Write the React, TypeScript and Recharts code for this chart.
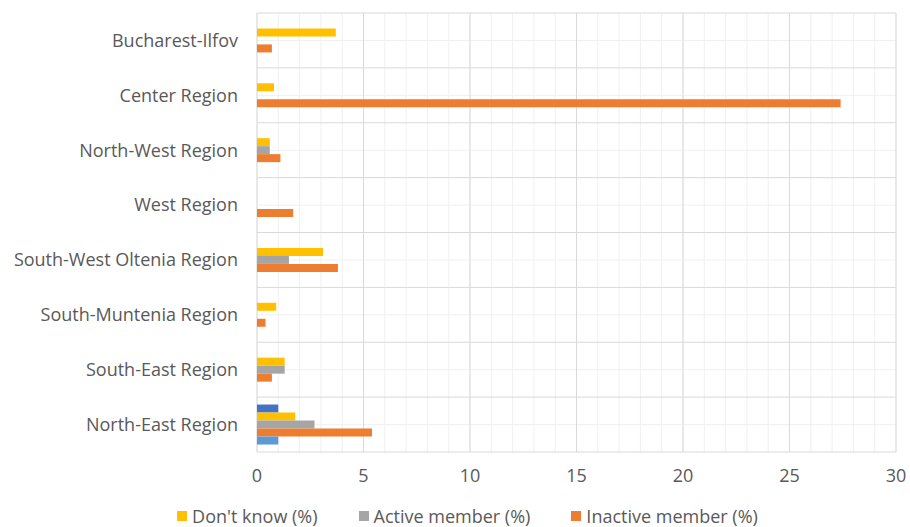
import { BarChart, Bar, XAxis, YAxis, CartesianGrid, Legend } from 'recharts';

const regions = [
  'Bucharest-Ilfov',
  'Center Region',
  'North-West Region',
  'West Region',
  'South-West Oltenia Region',
  'South-Muntenia Region',
  'South-East Region',
  'North-East Region',
];
const extraTop = [null, null, null, null, null, null, null, 1.0];
const dontKnow = [3.7, 0.8, 0.6, null, 3.1, 0.9, 1.3, 1.8];
const activeMember = [null, null, 0.6, null, 1.5, null, 1.3, 2.7];
const inactiveMember = [0.7, 27.4, 1.1, 1.7, 3.8, 0.4, 0.7, 5.4];
const extraBottom = [null, null, null, null, null, null, null, 1.0];
const xTicks = [0, 5, 10, 15, 20, 25, 30];
const xMax = 30;

const data = regions.map((region, i) => ({
  region,
  extraTop: extraTop[i],
  dontKnow: dontKnow[i],
  activeMember: activeMember[i],
  inactiveMember: inactiveMember[i],
  extraBottom: extraBottom[i],
}));

// only these three appear in the legend, in this order
const legendItems = [
  { key: 'dontKnow', name: "Don't know (%)", color: '#FFC000' },
  { key: 'activeMember', name: 'Active member (%)', color: '#A5A5A5' },
  { key: 'inactiveMember', name: 'Inactive member (%)', color: '#ED7D31' },
];

const textColor = '#595959';
const font = '"Open Sans", sans-serif';

// grid helpers: lines between categories (major) and through their centres (minor)
const bandLines = (offset: any, centres: boolean) => {
  const n = regions.length;
  const step = offset.height / n;
  const out: number[] = [];
  for (let i = 0; i <= n; i++) {
    if (centres) {
      if (i < n) out.push(offset.top + step * (i + 0.5));
    } else out.push(offset.top + step * i);
  }
  return out;
};
const valueLines = (offset: any, every: number) => {
  const out: number[] = [];
  for (let v = 0; v <= xMax; v += every) out.push(offset.left + (v / xMax) * offset.width);
  return out;
};

function LegendContent() {
  return (
    <div style={{ height: 40, paddingTop: 17, paddingLeft: 39, boxSizing: 'border-box', textAlign: 'center', fontFamily: font, fontSize: 18, color: textColor, lineHeight: '20px', whiteSpace: 'nowrap' }}>
      {legendItems.map((p, i) => (
        <span key={p.key} style={{ display: 'inline-flex', alignItems: 'center', marginRight: i < legendItems.length - 1 ? 41 : 0 }}>
          <span style={{ width: 10, height: 10, background: p.color, display: 'inline-block', marginRight: 5 }} />
          {p.name}
        </span>
      ))}
    </div>
  );
}

export default function App() {
  return (
    <div style={{ position: 'absolute', left: 0, top: 0, background: '#fff' }}>
      <BarChart
        width={910}
        height={527}
        data={data}
        layout="vertical"
        margin={{ top: 13, right: 14, left: 0, bottom: 0 }}
        barCategoryGap="13.5%"
        barGap={0}
      >
        <CartesianGrid
          stroke="#f0f0f0"
          horizontalCoordinatesGenerator={({ offset }: any) => bandLines(offset, true)}
          verticalCoordinatesGenerator={({ offset }: any) => valueLines(offset, 1)}
        />
        <CartesianGrid
          stroke="#d9d9d9"
          horizontalCoordinatesGenerator={({ offset }: any) => bandLines(offset, false)}
          verticalCoordinatesGenerator={({ offset }: any) => valueLines(offset, 5)}
        />
        <XAxis
          type="number"
          domain={[0, xMax]}
          ticks={xTicks}
          height={35}
          axisLine={false}
          tickLine={false}
          tickSize={0}
          tickMargin={17}
          tick={{ fill: textColor, fontSize: 18, fontFamily: font }}
        />
        <YAxis
          type="category"
          dataKey="region"
          width={257}
          axisLine={false}
          tickLine={false}
          tickSize={0}
          tickMargin={19}
          tick={{ fill: textColor, fontSize: 18, fontFamily: font }}
        />
        <Legend verticalAlign="bottom" height={40} content={<LegendContent />} />
        <Bar dataKey="extraTop" name="Series 4" fill="#4472C4" legendType="none" isAnimationActive={false} />
        <Bar dataKey="dontKnow" name="Don't know (%)" fill="#FFC000" isAnimationActive={false} />
        <Bar dataKey="activeMember" name="Active member (%)" fill="#A5A5A5" isAnimationActive={false} />
        <Bar dataKey="inactiveMember" name="Inactive member (%)" fill="#ED7D31" isAnimationActive={false} />
        <Bar dataKey="extraBottom" name="Series 5" fill="#5B9BD5" legendType="none" isAnimationActive={false} />
      </BarChart>
    </div>
  );
}
